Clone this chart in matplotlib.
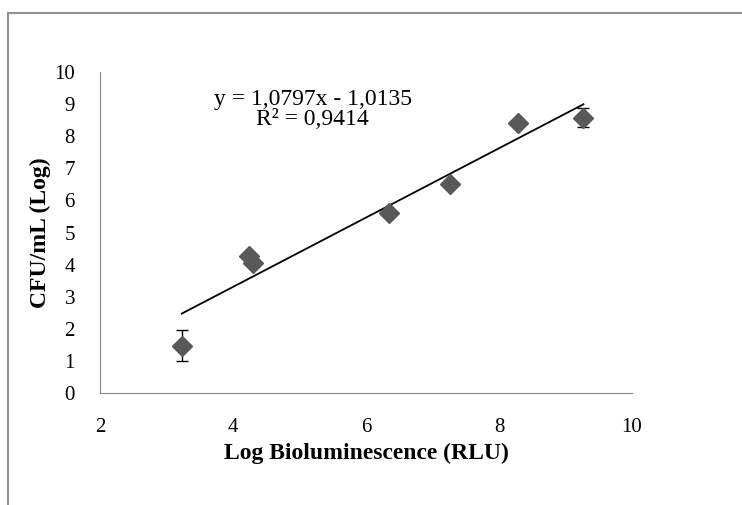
import numpy as np
import matplotlib.pyplot as plt
from matplotlib.lines import Line2D

plt.rcParams['font.family'] = ['Liberation Serif', 'DejaVu Serif']

# readings
log_rlu = [3.23, 4.24, 4.30, 6.34, 7.26, 8.28, 9.27]
log_cfu = [1.47, 4.26, 4.06, 5.62, 6.52, 8.42, 8.58]
err = [0.48, 0, 0, 0, 0, 0, 0.3]
slope, intercept = 1.0797, -1.0135

fig = plt.figure(figsize=(7.42, 5.05), dpi=100)
ax = fig.add_axes([100 / 742, 1 - 393 / 505, (632 - 100) / 742, (393 - 72) / 505])

ax.errorbar(log_rlu, log_cfu, yerr=err, fmt='D', color='#595959', markersize=10,
            ecolor='black', elinewidth=1, capsize=4, capthick=1, zorder=3)

# linear trendline
xt = np.array([min(log_rlu), max(log_rlu)])
ax.plot(xt, slope * xt + intercept, color='black', lw=1.3, zorder=2)

ax.set_xlim(2, 10)
ax.set_ylim(0, 10)
ax.set_xticks([2, 4, 6, 8, 10])
ax.set_yticks(range(0, 11))
for s in ['top', 'right']:
    ax.spines[s].set_visible(False)
ax.spines['bottom'].set_color('#888888')
ax.spines['left'].set_color('#888888')
ax.tick_params(axis='both', length=0, labelsize=15)
ax.tick_params(axis='x', pad=18)
ax.tick_params(axis='y', pad=18)

ax.set_xlabel('Log Bioluminescence (RLU)', fontsize=17, fontweight='bold', labelpad=4)
ax.set_ylabel('CFU/mL (Log)', fontsize=17, fontweight='bold', labelpad=2)

ax.text(0.40, 0.883, 'y = 1,0797x - 1,0135\nR² = 0,9414', transform=ax.transAxes,
        ha='center', va='center', fontsize=17, linespacing=0.92)

# outer chart frame (only top and left edges visible)
fig.add_artist(Line2D([8 / 742, 8 / 742], [1 - 13 / 505, 0], color='#909090', lw=1.5,
                      transform=fig.transFigure))
fig.add_artist(Line2D([8 / 742, 1], [1 - 13 / 505, 1 - 13 / 505], color='#909090', lw=1.5,
                      transform=fig.transFigure))

fig.savefig('out.png', dpi=100)
